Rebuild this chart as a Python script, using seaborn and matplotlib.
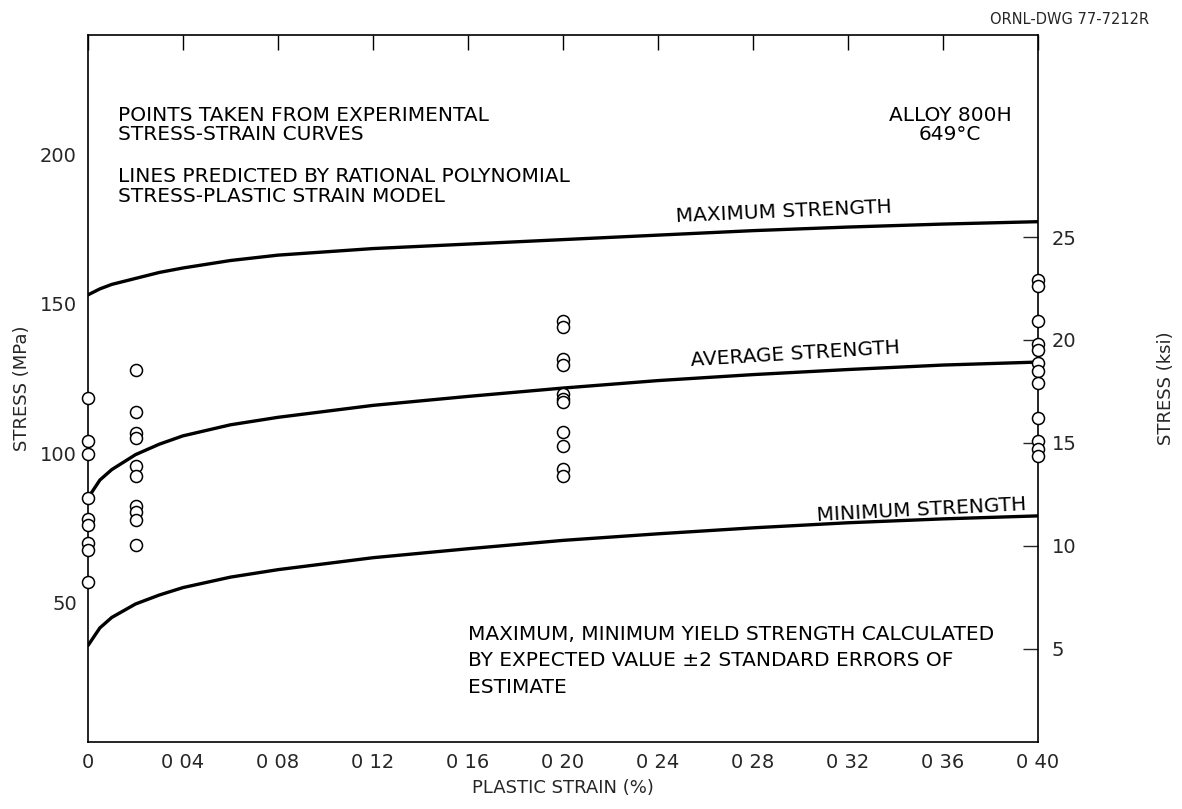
import numpy as np
import pandas as pd
import matplotlib
matplotlib.use("Agg")
import matplotlib.pyplot as plt
import seaborn as sns

# Experimental yield points (plastic strain %, stress MPa)
strain_0 = [0.0] * 9
stress_0 = [118.6, 104.1, 99.7, 84.9, 77.9, 75.9, 69.9, 67.6, 56.7]
strain_002 = [0.02] * 10
stress_002 = [127.8, 113.9, 106.9, 105.2, 95.6, 92.4, 82.2, 80.2, 77.7, 69.3]
strain_020 = [0.20] * 11
stress_020 = [144.4, 142.4, 131.4, 129.4, 119.7, 118.0, 117.0, 107.0, 102.3, 94.6, 92.3]
strain_040 = [0.40] * 12
stress_040 = [158.1, 155.9, 144.2, 136.4, 134.7, 130.3, 127.5, 123.6, 111.9, 104.1, 101.3, 98.9]

# Model curves (rational polynomial stress-plastic strain model)
curve_strain = [0.0, 0.005, 0.01, 0.02, 0.03, 0.04, 0.06, 0.08, 0.12, 0.16, 0.20, 0.24, 0.28, 0.32, 0.36, 0.40]
max_stress = [153.0, 155.0, 156.5, 158.5, 160.5, 162.0, 164.5, 166.3, 168.5, 170.0, 171.5, 173.0, 174.5, 175.7, 176.7, 177.5]
avg_stress = [85.0, 91.0, 94.5, 99.5, 103.0, 105.8, 109.5, 112.0, 116.0, 119.0, 121.8, 124.3, 126.3, 128.0, 129.5, 130.5]
min_stress = [35.6, 41.5, 45.0, 49.5, 52.5, 55.0, 58.5, 61.0, 65.0, 68.0, 70.8, 73.0, 75.0, 76.7, 78.0, 79.0]

x_ticks = [0, 0.04, 0.08, 0.12, 0.16, 0.20, 0.24, 0.28, 0.32, 0.36, 0.40]
x_tick_labels = ["0", "0 04", "0 08", "0 12", "0 16", "0 20", "0 24", "0 28", "0 32", "0 36", "0 40"]
mpa_ticks = [50, 100, 150, 200]
ksi_ticks = [5, 10, 15, 20, 25]
MPA_PER_KSI = 6.894757

points = pd.DataFrame({
    "strain": strain_0 + strain_002 + strain_020 + strain_040,
    "stress": stress_0 + stress_002 + stress_020 + stress_040,
})
curves = pd.DataFrame({
    "strain": curve_strain * 3,
    "stress": max_stress + avg_stress + min_stress,
    "level": ["max"] * len(curve_strain) + ["avg"] * len(curve_strain) + ["min"] * len(curve_strain),
})

sns.set_style("white")
plt.rcParams["font.family"] = ["DejaVu Sans"]

W, H = 1182, 809
left_px, right_px, top_px, bottom_px = 88, 1038, 35, 742
fig = plt.figure(figsize=(W / 100, H / 100), dpi=100)
ax = fig.add_axes([left_px / W, 1 - bottom_px / H, (right_px - left_px) / W, (bottom_px - top_px) / H])

sns.lineplot(data=curves, x="strain", y="stress", units="level", estimator=None,
             color="black", lw=2.4, ax=ax, legend=False)
sns.scatterplot(data=points, x="strain", y="stress", s=75, marker="o",
                facecolor="white", edgecolor="black", linewidth=1.1, ax=ax,
                zorder=5, clip_on=False)

ax.set_xlim(0, 0.40)
ax.set_ylim(3.3, 240)
ax.set_xticks(x_ticks)
ax.set_xticklabels(x_tick_labels)
ax.set_yticks(mpa_ticks)
ax.tick_params(axis="both", direction="in", length=11, width=1.0, labelsize=14,
               top=True, labeltop=False, pad=8, color="black")
for sp in ax.spines.values():
    sp.set_color("black")
    sp.set_linewidth(1.2)

ax.set_xlabel("PLASTIC STRAIN (%)", fontsize=13, labelpad=5)
ax.set_ylabel("STRESS (MPa)", fontsize=13, labelpad=6)

sec = ax.secondary_yaxis("right", functions=(lambda m: m / MPA_PER_KSI, lambda k: k * MPA_PER_KSI))
sec.set_yticks(ksi_ticks)
sec.tick_params(direction="in", length=11, width=1.0, labelsize=14, pad=10)
sec.set_ylabel("STRESS (ksi)", fontsize=13, labelpad=58)
sec.spines["right"].set_visible(False)

txt = dict(fontsize=14.5, color="black")
ax.text(0.0126, 209.9, "POINTS TAKEN FROM EXPERIMENTAL\nSTRESS-STRAIN CURVES",
        ha="left", va="center", linespacing=1.02, **txt)
ax.text(0.0126, 189.3, "LINES PREDICTED BY RATIONAL POLYNOMIAL\nSTRESS-PLASTIC STRAIN MODEL",
        ha="left", va="center", linespacing=1.12, **txt)
ax.text(0.363, 209.9, "ALLOY 800H\n649°C", ha="center", va="center", linespacing=1.02, **txt)
ax.text(0.293, 180.8, "MAXIMUM STRENGTH", ha="center", va="center", rotation=2.5, **txt)
ax.text(0.298, 133.3, "AVERAGE STRENGTH", ha="center", va="center", rotation=3.5, **txt)
ax.text(0.351, 80.9, "MINIMUM STRENGTH", ha="center", va="center", rotation=3.0, **txt)
ax.text(0.16, 30.5, "MAXIMUM, MINIMUM YIELD STRENGTH CALCULATED\nBY EXPECTED VALUE ±2 STANDARD ERRORS OF\nESTIMATE",
        ha="left", va="center", linespacing=1.5, **txt)

fig.text(0.972, 0.985, "ORNL-DWG 77-7212R", ha="right", va="top", fontsize=10.5)

fig.savefig("out.png", dpi=100)
